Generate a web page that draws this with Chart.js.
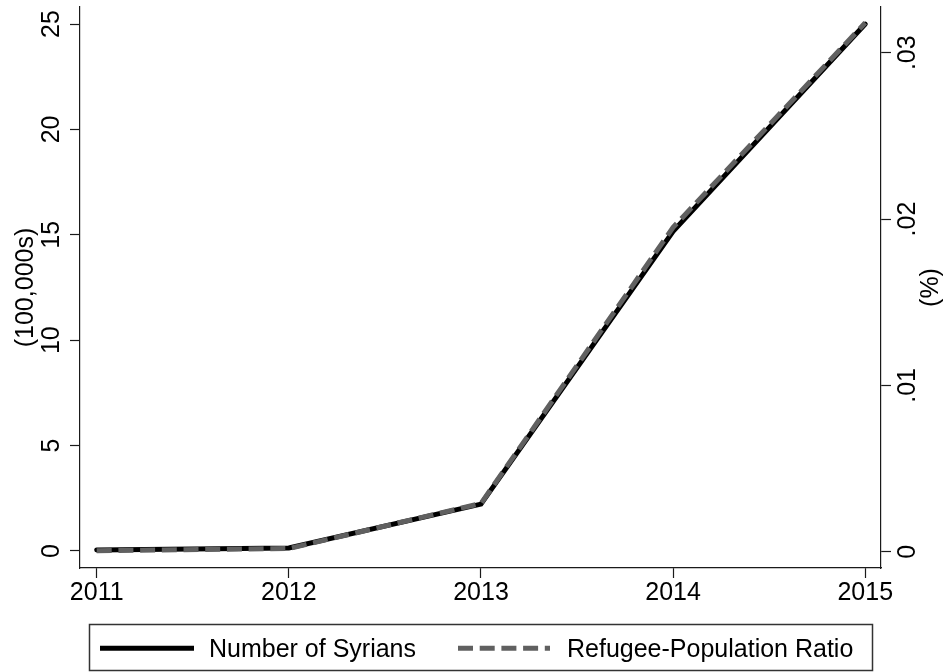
<!DOCTYPE html>
<html>
<head>
<meta charset="utf-8">
<script src="https://cdn.jsdelivr.net/npm/chart.js@4"></script>
<style>
    html, body { margin: 0; padding: 0; background: #fff; }
    #wrap { width: 949px; height: 672px; position: relative; }
</style>
</head>
<body>
<div id="wrap"><canvas id="chart"></canvas></div>
<script>
(function () {
    "use strict";

    // data
    const years = [2011, 2012, 2013, 2014, 2015];
    const syrians = [0.05, 0.14, 2.22, 15.17, 25.0];            // (100,000s)
    const ratio = [0.00006, 0.00019, 0.0029, 0.0195, 0.0318];   // (%)
    const leftTicks = [0, 5, 10, 15, 20, 25];
    const rightTicks = [0, 0.01, 0.02, 0.03];
    const rightTickLabels = ["0", ".01", ".02", ".03"];
    const leftTitle = "(100,000s)";
    const rightTitle = "(%)";
    const seriesNames = ["Number of Syrians", "Refugee-Population Ratio"];

    const FAMILY = "'Liberation Sans', Arial, sans-serif";
    const FONT = "25px " + FAMILY;
    const AXIS = "#1a1a1a";

    // rotated axis texts + framed legend, Stata style
    const stataText = {
        id: "stataText",
        afterDraw(chart) {
            const ctx = chart.ctx;
            const area = chart.chartArea;
            const yL = chart.scales.y;
            const yR = chart.scales.y1;
            const midY = (area.top + area.bottom) / 2;

            const rotText = (txt, x, y) => {
                ctx.save();
                ctx.translate(x, y);
                ctx.rotate(-Math.PI / 2);
                ctx.textAlign = "center";
                ctx.textBaseline = "alphabetic";
                ctx.fillText(txt, 0, 0);
                ctx.restore();
            };

            ctx.save();
            ctx.font = FONT;
            ctx.fillStyle = "#000";
            leftTicks.forEach((v) => rotText(String(v), area.left - 21, yL.getPixelForValue(v)));
            rightTicks.forEach((v, i) => rotText(rightTickLabels[i], area.right + 33.5, yR.getPixelForValue(v)));
            rotText(leftTitle, 32.5, midY);
            rotText(rightTitle, 937.5, midY);

            // legend: [sample start, sample end, text start]
            const ds = chart.data.datasets;
            const items = [
                { idx: 1, x0: 100, x1: 194, tx: 209 },
                { idx: 0, x0: 458, x1: 550, tx: 567 },
            ];
            const lineY = 648.3;
            items.forEach((it) => {
                const d = ds[it.idx];
                ctx.save();
                ctx.strokeStyle = d.borderColor;
                ctx.lineWidth = d.borderWidth;
                ctx.lineCap = "butt";
                ctx.setLineDash(d.borderDash || []);
                ctx.beginPath();
                ctx.moveTo(it.x0, lineY);
                ctx.lineTo(it.x1, lineY);
                ctx.stroke();
                ctx.restore();
                ctx.textAlign = "left";
                ctx.textBaseline = "alphabetic";
                ctx.fillText(d.label, it.tx, 656.5);
            });
            ctx.strokeStyle = "#333";
            ctx.lineWidth = 1.5;
            ctx.strokeRect(89.5, 624.5, 783, 46);
            ctx.restore();
        },
    };

    const yBase = {
        grid: { drawOnChartArea: false, drawTicks: true, tickLength: 10, tickColor: AXIS, tickWidth: 1.2 },
        border: { display: true, color: AXIS, width: 1.2 },
        ticks: { display: false },
    };

    new Chart(document.getElementById("chart"), {
        type: "line",
        data: {
            datasets: [
                {
                    label: seriesNames[1],
                    data: years.map((yr, i) => ({ x: yr, y: ratio[i] })),
                    yAxisID: "y1",
                    borderColor: "#606060",
                    borderWidth: 5,
                    borderDash: [15, 6.7],
                    borderCapStyle: "butt",
                    pointRadius: 0,
                    tension: 0,
                    order: 1,
                },
                {
                    label: seriesNames[0],
                    data: years.map((yr, i) => ({ x: yr, y: syrians[i] })),
                    yAxisID: "y",
                    borderColor: "#000",
                    borderWidth: 5,
                    borderCapStyle: "round",
                    pointRadius: 0,
                    tension: 0,
                    order: 2,
                },
            ],
        },
        options: {
            responsive: true,
            maintainAspectRatio: false,
            animation: false,
            layout: { padding: { top: 7, left: 0, right: 0, bottom: 0 } },
            plugins: {
                legend: { display: false },
                tooltip: { enabled: false },
            },
            scales: {
                x: {
                    type: "linear",
                    min: 2010.913,
                    max: 2015.082,
                    afterBuildTicks: (s) => { s.ticks = years.map((v) => ({ value: v })); },
                    afterFit: (s) => { s.height = 104; },
                    grid: { drawOnChartArea: false, drawTicks: true, tickLength: 10, tickColor: AXIS, tickWidth: 1.2 },
                    border: { display: true, color: AXIS, width: 1.2 },
                    ticks: {
                        padding: 0,
                        color: "#000",
                        font: { family: FAMILY, size: 25 },
                        callback: (v) => String(v),
                        maxRotation: 0,
                        autoSkip: false,
                    },
                },
                y: Object.assign({}, yBase, {
                    position: "left",
                    min: -0.81,
                    max: 25.81,
                    afterBuildTicks: (s) => { s.ticks = leftTicks.map((v) => ({ value: v })); },
                    afterFit: (s) => { s.width = 80; },
                }),
                y1: Object.assign({}, yBase, {
                    position: "right",
                    min: -0.00098,
                    max: 0.03275,
                    afterBuildTicks: (s) => { s.ticks = rightTicks.map((v) => ({ value: v })); },
                    afterFit: (s) => { s.width = 68; },
                }),
            },
        },
        plugins: [stataText],
    });
})();
</script>
</body>
</html>
